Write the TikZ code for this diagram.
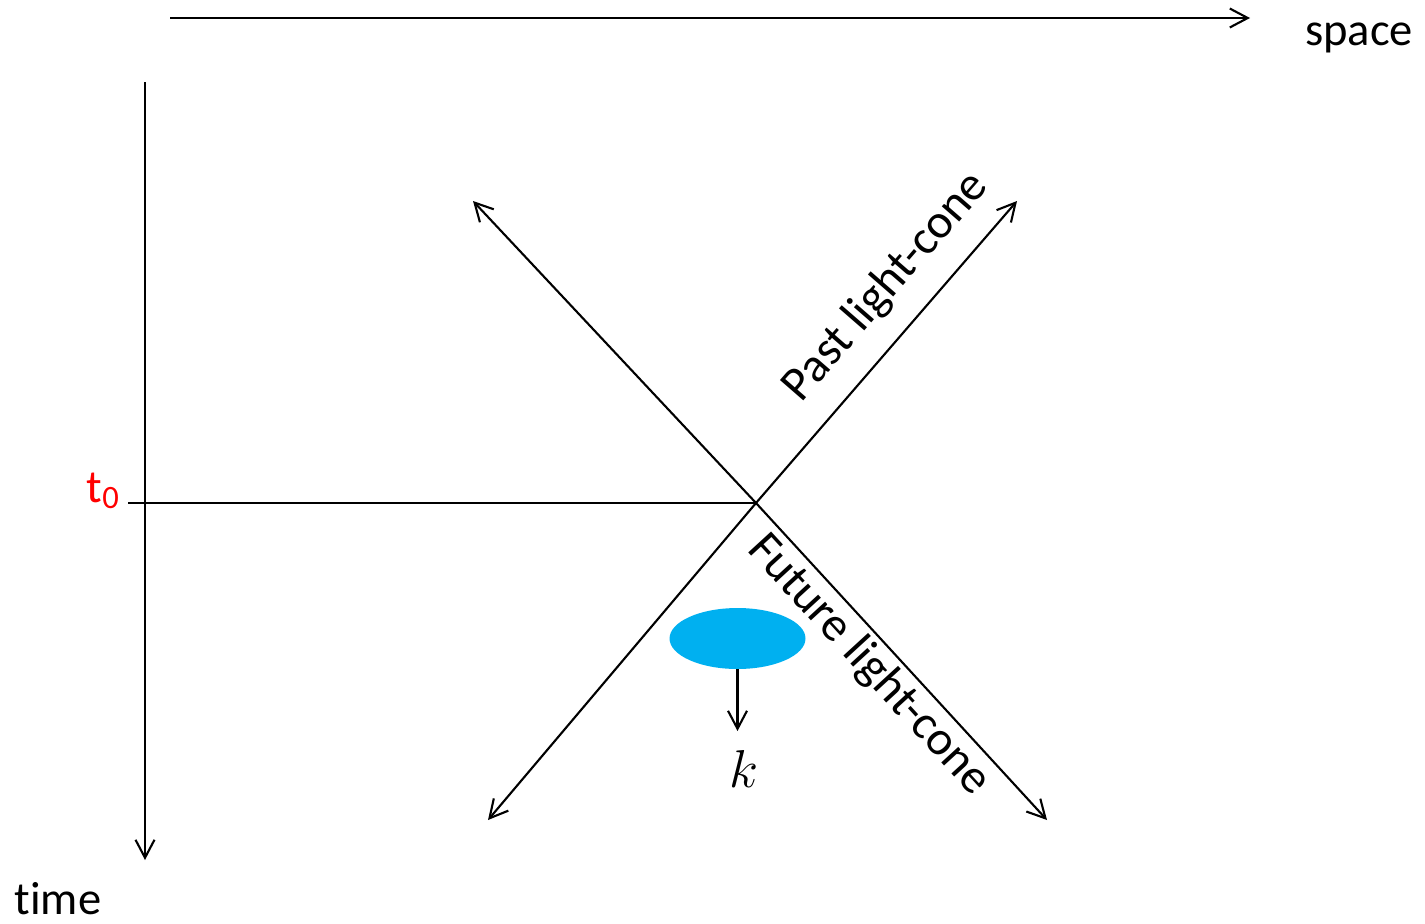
\documentclass[tikz,border=0pt]{standalone}
\usepackage{fontspec}
\setmainfont[Ligatures=NoCommon]{Carlito}
\usetikzlibrary{arrows.meta, shapes.geometric, positioning, calc}

\begin{document}
\begin{tikzpicture}[
            x=0.02cm, y=-0.02cm,
            % styles
            axis/.style={line width=1.2pt, -{Straight Barb[length=0.36cm, width=0.38cm, line width=1.2pt]}},
            ray/.style={line width=1.2pt, -{Straight Barb[length=0.36cm, width=0.38cm, line width=1.2pt]}},
            label/.style={font=\fontsize{26.5}{31}\selectfont, inner sep=0pt},
            blob/.style={ellipse, fill={rgb,255:red,0;green,176;blue,240}, minimum width=2.72cm, minimum height=1.22cm, inner sep=0pt}
        ]
        \useasboundingbox (0,0) rectangle (1425,923);

        % axes
        \coordinate (sx0) at (170,18);
        \coordinate (sx1) at (1250,18);
        \coordinate (tx0) at (145,82);
        \coordinate (tx1) at (145,860);
        \draw [axis] (sx0) -- (sx1);
        \draw [axis] (tx0) -- (tx1);
        \node (space) [label, anchor=base] at (1359,45) {space};
        \node (time)  [label, anchor=base] at (58,914) {time};

        % t0 marker
        \coordinate (o) at (756,503);
        \coordinate (tick) at (128,503);
        \draw [line width=1.2pt] (tick) -- (o);
        \node (t0) [label, anchor=base east, text=red] at (120,502) {t\textsubscript{0}};

        % light-cone rays
        \coordinate (ul) at (473,201);
        \coordinate (ur) at (1017,201);
        \coordinate (ll) at (488,820);
        \coordinate (lr) at (1047,820);
        \draw [ray] (o) -- (ul);
        \draw [ray] (o) -- (ur);
        \draw [ray] (o) -- (ll);
        \draw [ray] (o) -- (lr);
        \node (past)   [label, font=\fontsize{27.5}{32}\selectfont, rotate=49]    at (886,287) {Past light-cone};
        \node (future) [label, font=\fontsize{27.5}{32}\selectfont, rotate=-47.5] at (869,665) {Future light-cone};

        % particle and its momentum
        \node (src) [blob] at (737.5,638.5) {};
        \node (k) [inner sep=0pt, anchor=north, scale=1.22, font=\fontsize{24.88}{30}\selectfont] at (744,750) {$k$};
        \draw [ray] (src.south) -- ($(src.south |- k.north)+(0,-19)$);

        \end{tikzpicture}
\end{document}
